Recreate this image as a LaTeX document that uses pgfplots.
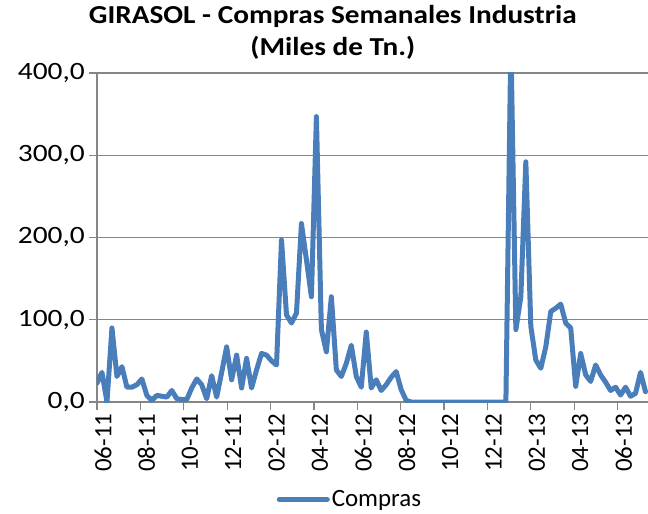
\documentclass[border=0pt]{standalone}
\usepackage{fontspec}
\setmainfont{Carlito}
\usepackage{pgfplots}
\pgfplotsset{compat=1.18}
\definecolor{serie}{RGB}{74,126,187}
\definecolor{ejes}{RGB}{134,134,134}

\begin{document}
\begin{tikzpicture}
\useasboundingbox (-97bp,-112bp) rectangle (551bp,402bp);
\begin{axis}[
  scale only axis,
  width=551bp, height=329bp,
  xmin=0, xmax=110.5,
  ymin=0, ymax=400,
  axis lines*=left,
  axis line style={draw=ejes, line width=1.2bp},
  ytick={0,100,200,300,400},
  ymajorgrids,
  grid style={draw=ejes, line width=1.2bp},
  xtick={0,8.7,17.4,26.1,34.8,43.5,52.2,60.9,69.6,78.3,87,95.7,104.4},
  xticklabels={06-11,08-11,10-11,12-11,02-12,04-12,06-12,08-12,10-12,12-12,02-13,04-13,06-13},
  tick align=outside,
  major tick length=8bp,
  tick style={draw=ejes, line width=1.2bp},
  xticklabel style={rotate=90, anchor=east, yshift=-6bp, font=\fontsize{25}{25}\selectfont},
  yticklabel style={font=\fontsize{25}{25}\selectfont, xscale=1.18},
  /pgf/number format/.cd, fixed, fixed zerofill, precision=1, use comma, assume math mode=true,
  /pgfplots/.cd,
  title={GIRASOL - Compras Semanales Industria\\(Miles de Tn.)},
  title style={at={(axis description cs:0.428,1.104)}, anchor=center, align=center,
               xscale=1.13, font=\bfseries\fontsize{26}{32}\selectfont},
  legend style={at={(axis description cs:0.459,-0.296)}, anchor=center, draw=none, fill=none,
                font=\fontsize{25}{25}\selectfont, inner sep=0pt, xscale=1.09},
  legend image code/.code={\draw[#1] (0bp,0bp) -- (48bp,0bp);},
]
\addplot[serie, line width=5bp, line join=round, line cap=round] coordinates {
(0,23)(1,36)(2,0)(3,90)(4,31)(5,43)(6,18)(7,18)(8,21)(9,28)
(10,8)(11,2)(12,8)(13,7)(14,6)(15,14)(16,4)(17,3)(18,3)(19,17)
(20,28)(21,21)(22,4)(23,32)(24,6)(25,36)(26,67)(27,27)(28,57)(29,17)
(30,53)(31,17)(32,39)(33,59)(34,57)(35,50)(36,45)(37,197)(38,106)(39,96)
(40,108)(41,217)(42,173)(43,128)(44,347)(45,88)(46,61)(47,128)(48,39)(49,31)
(50,47)(51,69)(52,31)(53,18)(54,85)(55,17)(56,27)(57,14)(58,21)(59,30)
(60,37)(61,15)(62,2)(63,0)(64,0)(65,0)(66,0)(67,0)(68,0)(69,0)
(70,0)(71,0)(72,0)(73,0)(74,0)(75,0)(76,0)(77,0)(78,0)(79,0)
(80,0)(81,0)(82,0)(83,440)(84,88)(85,128)(86,292)(87,92)(88,51)(89,41)
(90,67)(91,110)(92,114)(93,119)(94,96)(95,90)(96,19)(97,59)(98,33)(99,25)
(100,45)(101,33)(102,24)(103,14)(104,18)(105,8.5)(106,18)(107,7)(108,10.5)(109,36)
(110,12.5)
};
\legend{Compras}
\end{axis}
\end{tikzpicture}
\end{document}
